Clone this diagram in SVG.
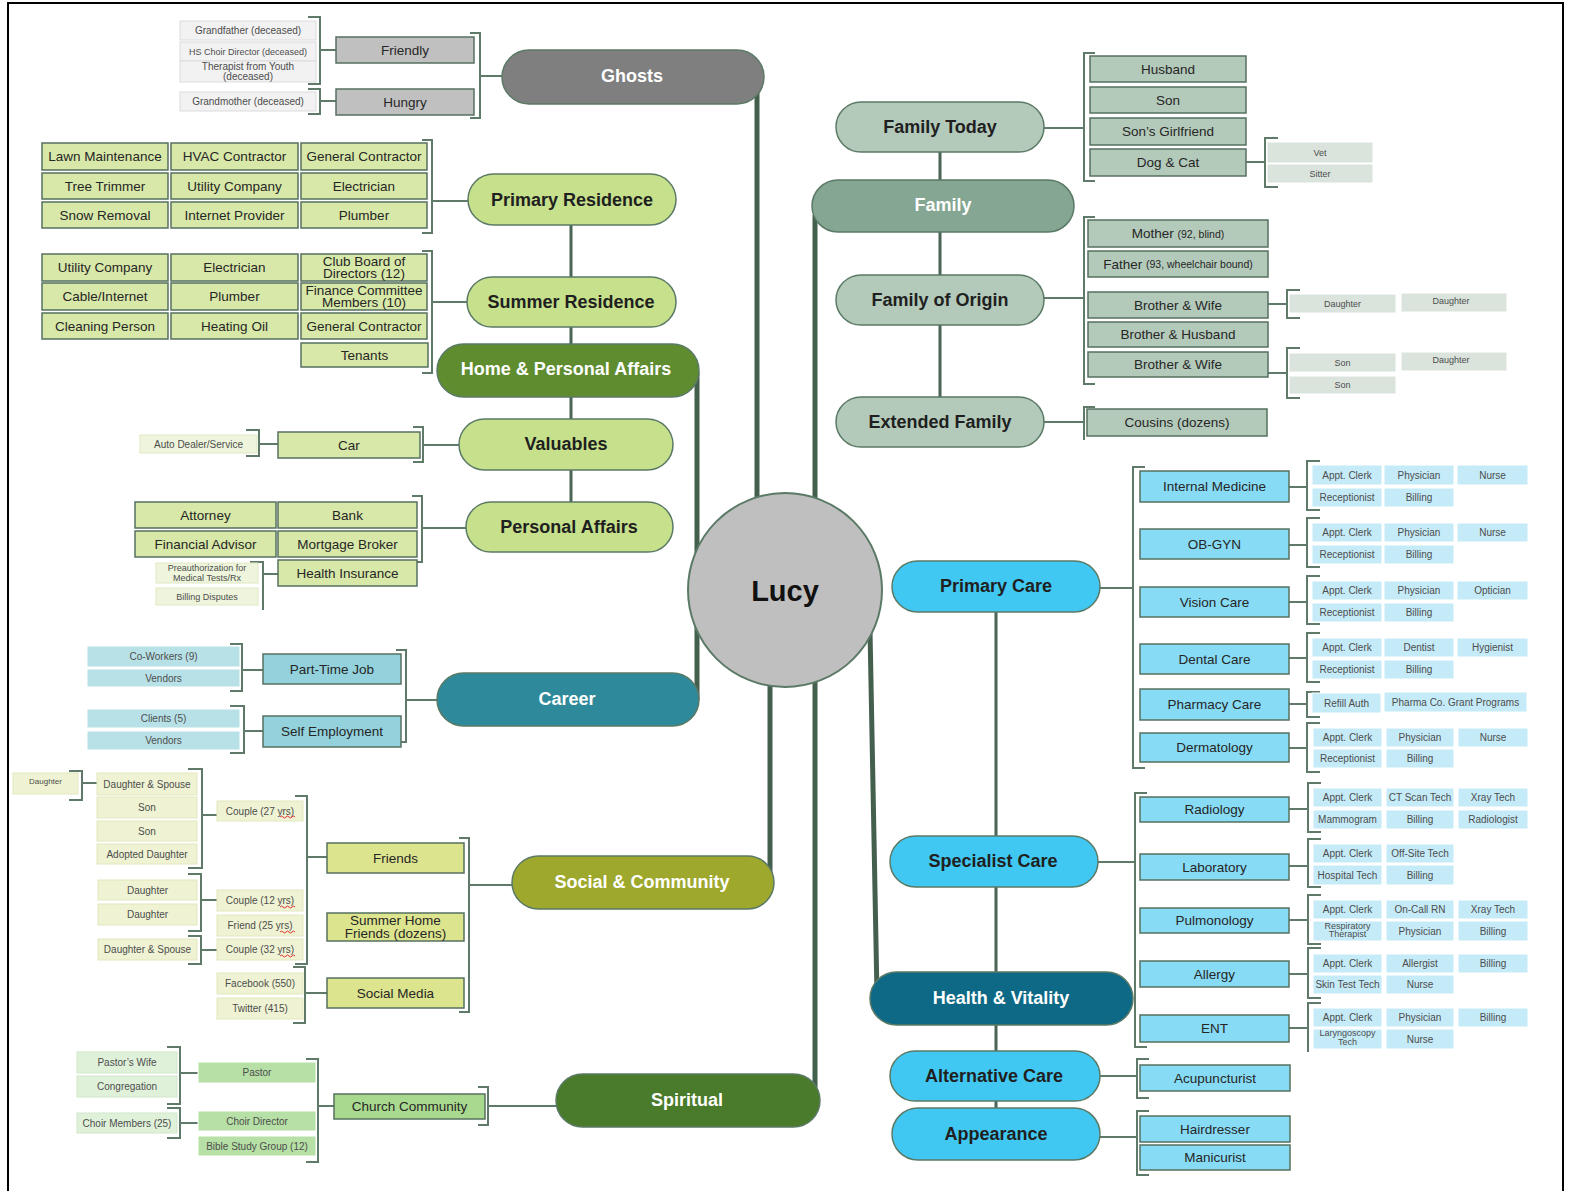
<svg xmlns="http://www.w3.org/2000/svg" width="1570" height="1191" viewBox="0 0 1570 1191">
<style>
text{font-family:"Liberation Sans",Arial,sans-serif;text-anchor:middle;dominant-baseline:central}
.nl{font-size:18px;font-weight:bold;fill:#1f1f1f}
.nw{font-size:18px;font-weight:bold;fill:#ffffff}
.lf{font-size:13.5px;fill:#262626}
.sl{font-size:10px;fill:#4d4d4d}
.xs{font-size:9px;fill:#4d4d4d}
.node{stroke:#5b7a66;stroke-width:1.5}
.leaf{stroke:#55705f;stroke-width:1.5}
.main{stroke:#455f4f;stroke-width:5;fill:none}
.mid{stroke:#4a6555;stroke-width:3;fill:none}
.br{stroke:#5f7a69;stroke-width:2;fill:none}
.sq{stroke:#e03030;stroke-width:1;fill:none}
.fg1{fill:#c0c0c0}.fg2{fill:#f2f2f2;stroke:#dcdcdc}
.fr1{fill:#d8e8a8}.fr2{fill:#eef5dc;stroke:#dfe9c4}
.fc1{fill:#93d2dd}.fc2{fill:#b8e1e7;stroke:#ffffff}
.fs1{fill:#dde48e}.fs2{fill:#eff3d3;stroke:#e2e8bd}
.fp1{fill:#a9d98f}.fp2{fill:#b6e0a5;stroke:#ffffff}.fp3{fill:#e0f1da;stroke:#d2e6cb}
.ff1{fill:#b3c9ba}.ff2{fill:#dae4dd;stroke:#ffffff}
.fh1{fill:#87dbf5}.fh2{fill:#c5ebf8;stroke:#ffffff}
</style>
<rect x="0" y="0" width="1570" height="1191" fill="#ffffff"/>
<path d="M8,1191 V3 H1563 V1191" fill="none" stroke="#000" stroke-width="2"/>

<g id="connectors">
<!-- main -->
<path class="main" d="M757,85 V500"/>
<path class="main" d="M815,215 V500"/>
<path class="main" d="M697,372 V700"/>
<path class="main" d="M770,880 V680"/>
<path class="main" d="M815,1098 V680"/>
<path class="main" d="M870,630 L877,995"/>
<path class="mid" d="M940,140 V410"/>
<path class="mid" d="M571,200 V527"/>
<path class="mid" d="M996,590 V1135"/>
<!-- ghosts -->
<path class="br" d="M470,33 H480 V118 H470 M480,76 H502"/>
<path class="br" d="M308,17 H320 V84 H308 M320,50 H336"/>
<path class="br" d="M308,89 H320 V114 H308 M320,101 H336"/>
<!-- residences -->
<path class="br" d="M422,140 H432 V233 H422 M432,201 H468"/>
<path class="br" d="M422,251 H432 V373 H422 M432,302 H467"/>
<!-- valuables -->
<path class="br" d="M413,427 H423 V462 H413 M423,445 H459"/>
<path class="br" d="M246,430 H259 V456 H246 M259,444 H278"/>
<!-- personal affairs -->
<path class="br" d="M412,496 H422 V562 H412 M422,528 H466"/>
<path class="br" d="M250,562 H263 V610 M263,574 H278"/>
<!-- career -->
<path class="br" d="M396,650 H406 V742 H396 M406,700 H437"/>
<path class="br" d="M230,644 H242 V691 H230 M242,670 H263"/>
<path class="br" d="M230,706 H244 V753 H230 M244,731 H263"/>
<!-- social -->
<path class="br" d="M459,838 H469 V1012 H459 M469,885 H512"/>
<path class="br" d="M295,796 H307 V964 H295 M307,857 H327"/>
<path class="br" d="M293,967 H305 V1023 H293 M305,993 H327"/>
<path class="br" d="M188,769 H202 V868 H188 M202,815 H217"/>
<path class="br" d="M69,771 H82 V800 H69 M82,783 H97"/>
<path class="br" d="M188,874 H201 V931 H188 M201,900 H217"/>
<path class="br" d="M188,936 H201 V964 H188 M201,950 H217"/>
<!-- spiritual -->
<path class="br" d="M478,1087 H488 V1125 H478 M488,1106 H556"/>
<path class="br" d="M306,1059 H318 V1162 H306 M318,1106 H334"/>
<path class="br" d="M167,1047 H180 V1104 H167 M180,1073 H198"/>
<path class="br" d="M167,1108 H180 V1138 H167 M180,1123 H198"/>
<!-- family -->
<path class="br" d="M1095,53 H1084 V181 H1095 M1044,128 H1084"/>
<path class="br" d="M1278,138 H1265 V187 H1278 M1246,162 H1265"/>
<path class="br" d="M1095,217 H1084 V384 H1095 M1044,298 H1084"/>
<path class="br" d="M1300,290 H1287 V318 H1300 M1268,304 H1287"/>
<path class="br" d="M1300,348 H1287 V398 H1300 M1268,373 H1287"/>
<path class="br" d="M1095,407 H1084 V440 M1044,422 H1084"/>
<!-- primary care -->
<path class="br" d="M1145,467 H1133 V768 H1145 M1100,588 H1133"/>
<path class="br" d="M1320,461 H1307 V510 H1320 M1289,487 H1307"/>
<path class="br" d="M1320,518 H1307 V567 H1320 M1289,545 H1307"/>
<path class="br" d="M1320,576 H1307 V624 H1320 M1289,602 H1307"/>
<path class="br" d="M1320,633 H1307 V682 H1320 M1289,658 H1307"/>
<path class="br" d="M1320,692 H1307 V717 H1320 M1289,704 H1307"/>
<path class="br" d="M1320,723 H1307 V772 H1320 M1289,748 H1307"/>
<!-- specialist -->
<path class="br" d="M1147,793 H1135 V1047 H1147 M1098,862 H1135"/>
<path class="br" d="M1321,783 H1308 V832 H1321 M1289,809 H1308"/>
<path class="br" d="M1321,839 H1308 V887 H1321 M1289,866 H1308"/>
<path class="br" d="M1321,895 H1308 V944 H1321 M1289,920 H1308"/>
<path class="br" d="M1321,948 H1308 V998 H1321 M1289,974 H1308"/>
<path class="br" d="M1321,1003 H1308 V1052 M1289,1028 H1308"/>
<!-- alt / appearance -->
<path class="br" d="M1149,1059 H1137 V1098 H1149 M1100,1076 H1137"/>
<path class="br" d="M1149,1111 H1137 V1175 H1149 M1100,1137 H1137"/>
</g>

<!-- main nodes -->
<g id="ghosts"><rect class="node" x="502" y="50" width="262" height="54" rx="27" fill="#7f7f7f"/><text class="nw" x="632" y="76">Ghosts</text></g>
<g id="family-today"><rect class="node" x="836" y="102" width="208" height="50" rx="25" fill="#b3c9ba"/><text class="nl" x="940" y="127">Family Today</text></g>
<g id="family"><rect class="node" x="812" y="180" width="262" height="52" rx="26" fill="#84a692"/><text class="nw" x="943" y="205">Family</text></g>
<g id="family-origin"><rect class="node" x="836" y="275" width="208" height="50" rx="25" fill="#b3c9ba"/><text class="nl" x="940" y="300">Family of Origin</text></g>
<g id="extended-family"><rect class="node" x="836" y="397" width="208" height="50" rx="25" fill="#b3c9ba"/><text class="nl" x="940" y="422">Extended Family</text></g>
<g id="primary-residence"><rect class="node" x="468" y="174" width="208" height="51" rx="25.5" fill="#c6e08c"/><text class="nl" x="572" y="200">Primary Residence</text></g>
<g id="summer-residence"><rect class="node" x="467" y="277" width="209" height="50" rx="25" fill="#c6e08c"/><text class="nl" x="571" y="302">Summer Residence</text></g>
<g id="home-personal"><rect class="node" x="437" y="344" width="262" height="53" rx="26.5" fill="#5e8c2f"/><text class="nw" x="566" y="369">Home &amp; Personal Affairs</text></g>
<g id="valuables"><rect class="node" x="459" y="419" width="214" height="51" rx="25.5" fill="#c6e08c"/><text class="nl" x="566" y="444">Valuables</text></g>
<g id="personal-affairs"><rect class="node" x="466" y="502" width="207" height="50" rx="25" fill="#c6e08c"/><text class="nl" x="569" y="527">Personal Affairs</text></g>
<g id="career"><rect class="node" x="437" y="673" width="262" height="53" rx="26.5" fill="#2e8a9a"/><text class="nw" x="567" y="699">Career</text></g>
<g id="social"><rect class="node" x="512" y="856" width="262" height="53" rx="26.5" fill="#9da82c"/><text class="nw" x="642" y="882">Social &amp; Community</text></g>
<g id="spiritual"><rect class="node" x="556" y="1074" width="264" height="53" rx="26.5" fill="#4a7b2b"/><text class="nw" x="687" y="1100">Spiritual</text></g>
<g id="primary-care"><rect class="node" x="892" y="561" width="208" height="51" rx="25.5" fill="#41c8f2"/><text class="nl" x="996" y="586">Primary Care</text></g>
<g id="specialist-care"><rect class="node" x="890" y="836" width="208" height="51" rx="25.5" fill="#41c8f2"/><text class="nl" x="993" y="861">Specialist Care</text></g>
<g id="health"><rect class="node" x="870" y="972" width="263" height="53" rx="26.5" fill="#0d6985"/><text class="nw" x="1001" y="998">Health &amp; Vitality</text></g>
<g id="alternative-care"><rect class="node" x="890" y="1051" width="210" height="50" rx="25" fill="#41c8f2"/><text class="nl" x="994" y="1076">Alternative Care</text></g>
<g id="appearance"><rect class="node" x="892" y="1108" width="208" height="52" rx="26" fill="#41c8f2"/><text class="nl" x="996" y="1134">Appearance</text></g>
<g id="lucy"><circle cx="785" cy="590" r="97" fill="#bfbfbf" stroke="#5b7a66" stroke-width="2"/><text x="785" y="591" style="font-size:29px;font-weight:bold;fill:#111">Lucy</text></g>

<!-- ghosts leaves -->
<g id="friendly"><rect class="leaf fg1" x="336" y="37" width="138" height="26"/><text class="lf" x="405" y="50">Friendly</text></g>
<g id="hungry"><rect class="leaf fg1" x="336" y="89" width="138" height="26"/><text class="lf" x="405" y="102">Hungry</text></g>
<g id="grandfather"><rect class="fg2" x="180" y="21" width="136" height="19"/><text class="sl" x="248" y="30.5">Grandfather (deceased)</text></g>
<g id="choir-dir-d"><rect class="fg2" x="180" y="42" width="136" height="19"/><text class="xs" x="248" y="51.5">HS Choir Director (deceased)</text></g>
<g id="therapist"><rect class="fg2" x="180" y="61" width="136" height="21"/><text class="sl" x="248" y="66">Therapist from Youth</text><text class="sl" x="248" y="76">(deceased)</text></g>
<g id="grandmother"><rect class="fg2" x="180" y="92" width="136" height="19"/><text class="sl" x="248" y="101.5">Grandmother (deceased)</text></g>

<!-- primary residence leaves -->
<g id="pr-lawn"><rect class="leaf fr1" x="42" y="143" width="126" height="27"/><text class="lf" x="105" y="156.5">Lawn Maintenance</text></g>
<g id="pr-hvac"><rect class="leaf fr1" x="171" y="143" width="127" height="27"/><text class="lf" x="234.5" y="156.5">HVAC Contractor</text></g>
<g id="pr-gc"><rect class="leaf fr1" x="301" y="143" width="126" height="27"/><text class="lf" x="364" y="156.5">General Contractor</text></g>
<g id="pr-tree"><rect class="leaf fr1" x="42" y="173" width="126" height="26"/><text class="lf" x="105" y="186">Tree Trimmer</text></g>
<g id="pr-util"><rect class="leaf fr1" x="171" y="173" width="127" height="26"/><text class="lf" x="234.5" y="186">Utility Company</text></g>
<g id="pr-elec"><rect class="leaf fr1" x="301" y="173" width="126" height="26"/><text class="lf" x="364" y="186">Electrician</text></g>
<g id="pr-snow"><rect class="leaf fr1" x="42" y="202" width="126" height="26"/><text class="lf" x="105" y="215">Snow Removal</text></g>
<g id="pr-inet"><rect class="leaf fr1" x="171" y="202" width="127" height="26"/><text class="lf" x="234.5" y="215">Internet Provider</text></g>
<g id="pr-plumb"><rect class="leaf fr1" x="301" y="202" width="126" height="26"/><text class="lf" x="364" y="215">Plumber</text></g>

<!-- summer residence leaves -->
<g id="sr-util"><rect class="leaf fr1" x="42" y="254" width="126" height="27"/><text class="lf" x="105" y="267.5">Utility Company</text></g>
<g id="sr-elec"><rect class="leaf fr1" x="171" y="254" width="127" height="27"/><text class="lf" x="234.5" y="267.5">Electrician</text></g>
<g id="sr-club"><rect class="leaf fr1" x="301" y="254" width="126" height="27"/><text class="lf" x="364" y="261.5">Club Board of</text><text class="lf" x="364" y="273.5">Directors (12)</text></g>
<g id="sr-cable"><rect class="leaf fr1" x="42" y="283" width="126" height="27"/><text class="lf" x="105" y="296.5">Cable/Internet</text></g>
<g id="sr-plumb"><rect class="leaf fr1" x="171" y="283" width="127" height="27"/><text class="lf" x="234.5" y="296.5">Plumber</text></g>
<g id="sr-fin"><rect class="leaf fr1" x="301" y="283" width="126" height="27"/><text class="lf" x="364" y="290.5">Finance Committee</text><text class="lf" x="364" y="302.5">Members (10)</text></g>
<g id="sr-clean"><rect class="leaf fr1" x="42" y="313" width="126" height="26"/><text class="lf" x="105" y="326">Cleaning Person</text></g>
<g id="sr-oil"><rect class="leaf fr1" x="171" y="313" width="127" height="26"/><text class="lf" x="234.5" y="326">Heating Oil</text></g>
<g id="sr-gc"><rect class="leaf fr1" x="301" y="313" width="126" height="26"/><text class="lf" x="364" y="326">General Contractor</text></g>
<g id="sr-ten"><rect class="leaf fr1" x="301" y="343" width="127" height="24"/><text class="lf" x="364.5" y="355">Tenants</text></g>

<!-- valuables / personal affairs leaves -->
<g id="car"><rect class="leaf fr1" x="278" y="432" width="142" height="26"/><text class="lf" x="349" y="445">Car</text></g>
<g id="auto"><rect class="fr2" x="140" y="435" width="117" height="18"/><text class="sl" x="198.5" y="444">Auto Dealer/Service</text></g>
<g id="attorney"><rect class="leaf fr1" x="135" y="502" width="141" height="26"/><text class="lf" x="205.5" y="515">Attorney</text></g>
<g id="bank"><rect class="leaf fr1" x="278" y="502" width="139" height="26"/><text class="lf" x="347.5" y="515">Bank</text></g>
<g id="fin-adv"><rect class="leaf fr1" x="135" y="531" width="141" height="26"/><text class="lf" x="205.5" y="544">Financial Advisor</text></g>
<g id="mortgage"><rect class="leaf fr1" x="278" y="531" width="139" height="26"/><text class="lf" x="347.5" y="544">Mortgage Broker</text></g>
<g id="health-ins"><rect class="leaf fr1" x="278" y="560" width="139" height="26"/><text class="lf" x="347.5" y="573">Health Insurance</text></g>
<g id="preauth"><rect class="fr2" x="156" y="563" width="102" height="20"/><text class="xs" x="207" y="568">Preauthorization for</text><text class="xs" x="207" y="578">Medical Tests/Rx</text></g>
<g id="billing-disp"><rect class="fr2" x="156" y="588" width="102" height="17"/><text class="xs" x="207" y="596.5">Billing Disputes</text></g>

<!-- career leaves -->
<g id="part-time"><rect class="leaf fc1" x="263" y="654" width="138" height="30"/><text class="lf" x="332" y="669">Part-Time Job</text></g>
<g id="self-emp"><rect class="leaf fc1" x="263" y="716" width="138" height="31"/><text class="lf" x="332" y="731.5">Self Employment</text></g>
<g id="coworkers"><rect class="fc2" x="87" y="646" width="153" height="21"/><text class="sl" x="163.5" y="656.5">Co-Workers (9)</text></g>
<g id="vendors1"><rect class="fc2" x="87" y="669" width="153" height="18"/><text class="sl" x="163.5" y="678">Vendors</text></g>
<g id="clients"><rect class="fc2" x="87" y="709" width="153" height="19"/><text class="sl" x="163.5" y="718.5">Clients (5)</text></g>
<g id="vendors2"><rect class="fc2" x="87" y="731" width="153" height="19"/><text class="sl" x="163.5" y="740.5">Vendors</text></g>

<!-- social leaves -->
<g id="friends"><rect class="leaf fs1" x="327" y="843" width="137" height="30"/><text class="lf" x="395.5" y="858">Friends</text></g>
<g id="summer-friends"><rect class="leaf fs1" x="327" y="913" width="137" height="28"/><text class="lf" x="395.5" y="920.5">Summer Home</text><text class="lf" x="395.5" y="933">Friends (dozens)</text></g>
<g id="social-media"><rect class="leaf fs1" x="327" y="978" width="137" height="30"/><text class="lf" x="395.5" y="993">Social Media</text></g>
<g id="couple27"><rect class="fs2" x="217" y="801" width="86" height="20"/><text class="sl" x="260" y="811">Couple (27 yrs)</text><path class="sq" d="M280,817 q1.5,-2 3,0 t3,0 t3,0 t3,0 t3,0"/></g>
<g id="couple12"><rect class="fs2" x="217" y="890" width="86" height="21"/><text class="sl" x="260" y="900.5">Couple (12 yrs)</text><path class="sq" d="M280,907 q1.5,-2 3,0 t3,0 t3,0 t3,0 t3,0"/></g>
<g id="friend25"><rect class="fs2" x="217" y="915" width="86" height="21"/><text class="sl" x="260" y="925.5">Friend (25 yrs)</text><path class="sq" d="M280,932 q1.5,-2 3,0 t3,0 t3,0 t3,0 t3,0"/></g>
<g id="couple32"><rect class="fs2" x="217" y="939" width="86" height="21"/><text class="sl" x="260" y="949.5">Couple (32 yrs)</text><path class="sq" d="M280,956 q1.5,-2 3,0 t3,0 t3,0 t3,0 t3,0"/></g>
<g id="facebook"><rect class="fs2" x="217" y="973" width="86" height="21"/><text class="sl" x="260" y="983.5">Facebook (550)</text></g>
<g id="twitter"><rect class="fs2" x="217" y="998" width="86" height="21"/><text class="sl" x="260" y="1008.5">Twitter (415)</text></g>
<g id="dspouse1"><rect class="fs2" x="97" y="773" width="100" height="22"/><text class="sl" x="147" y="784">Daughter &amp; Spouse</text></g>
<g id="son1"><rect class="fs2" x="97" y="797" width="100" height="21"/><text class="sl" x="147" y="807.5">Son</text></g>
<g id="son2"><rect class="fs2" x="97" y="821" width="100" height="20"/><text class="sl" x="147" y="831">Son</text></g>
<g id="adopted"><rect class="fs2" x="97" y="844" width="100" height="20"/><text class="sl" x="147" y="854">Adopted Daughter</text></g>
<g id="gdaughter"><rect class="fs2" x="13" y="773" width="65" height="21"/><text class="xs" x="45.5" y="781" style="font-size:8px">Daughter</text></g>
<g id="daughter-a"><rect class="fs2" x="98" y="880" width="99" height="20"/><text class="sl" x="147.5" y="890">Daughter</text></g>
<g id="daughter-b"><rect class="fs2" x="98" y="904" width="99" height="21"/><text class="sl" x="147.5" y="914">Daughter</text></g>
<g id="dspouse2"><rect class="fs2" x="98" y="939" width="99" height="21"/><text class="sl" x="147.5" y="949.5">Daughter &amp; Spouse</text></g>

<!-- spiritual leaves -->
<g id="church"><rect class="leaf fp1" x="334" y="1094" width="151" height="25"/><text class="lf" x="409.5" y="1106.5">Church Community</text></g>
<g id="pastor"><rect class="fp2" x="198" y="1062" width="118" height="21"/><text class="sl" x="257" y="1072.5">Pastor</text></g>
<g id="choir-director"><rect class="fp2" x="198" y="1111" width="118" height="20"/><text class="sl" x="257" y="1121">Choir Director</text></g>
<g id="bible"><rect class="fp2" x="198" y="1136" width="118" height="20"/><text class="sl" x="257" y="1146">Bible Study Group (12)</text></g>
<g id="pastor-wife"><rect class="fp3" x="77" y="1052" width="100" height="21"/><text class="sl" x="127" y="1062.5">Pastor’s Wife</text></g>
<g id="congregation"><rect class="fp3" x="77" y="1076" width="100" height="21"/><text class="sl" x="127" y="1086.5">Congregation</text></g>
<g id="choir-members"><rect class="fp3" x="77" y="1113" width="100" height="20"/><text class="sl" x="127" y="1123">Choir Members (25)</text></g>

<!-- family leaves -->
<g id="husband"><rect class="leaf ff1" x="1090" y="56" width="156" height="26"/><text class="lf" x="1168" y="69">Husband</text></g>
<g id="son"><rect class="leaf ff1" x="1090" y="87" width="156" height="26"/><text class="lf" x="1168" y="100">Son</text></g>
<g id="sons-gf"><rect class="leaf ff1" x="1090" y="118" width="156" height="27"/><text class="lf" x="1168" y="131.5">Son’s Girlfriend</text></g>
<g id="dogcat"><rect class="leaf ff1" x="1090" y="149" width="156" height="27"/><text class="lf" x="1168" y="162.5">Dog &amp; Cat</text></g>
<g id="vet"><rect class="ff2" x="1267" y="142" width="106" height="21"/><text class="xs" x="1320" y="152.5">Vet</text></g>
<g id="sitter"><rect class="ff2" x="1267" y="164" width="106" height="19"/><text class="xs" x="1320" y="173.5">Sitter</text></g>
<g id="mother"><rect class="leaf ff1" x="1088" y="220" width="180" height="27"/><text class="lf" x="1178" y="233.5">Mother <tspan style="font-size:10.5px">(92, blind)</tspan></text></g>
<g id="father"><rect class="leaf ff1" x="1088" y="251" width="180" height="26"/><text class="lf" x="1178" y="264">Father <tspan style="font-size:10.5px">(93, wheelchair bound)</tspan></text></g>
<g id="bro-wife1"><rect class="leaf ff1" x="1088" y="292" width="180" height="26"/><text class="lf" x="1178" y="305">Brother &amp; Wife</text></g>
<g id="bro-husband"><rect class="leaf ff1" x="1088" y="322" width="180" height="25"/><text class="lf" x="1178" y="334.5">Brother &amp; Husband</text></g>
<g id="bro-wife2"><rect class="leaf ff1" x="1088" y="352" width="180" height="25"/><text class="lf" x="1178" y="364.5">Brother &amp; Wife</text></g>
<g id="niece1"><rect class="ff2" x="1289" y="294" width="107" height="19"/><text class="xs" x="1342.5" y="303.5">Daughter</text></g>
<g id="niece2"><rect class="ff2" x="1401" y="293" width="106" height="19"/><text class="xs" x="1451" y="301">Daughter</text></g>
<g id="nephew1"><rect class="ff2" x="1289" y="353" width="107" height="19"/><text class="xs" x="1342.5" y="362.5">Son</text></g>
<g id="niece3"><rect class="ff2" x="1401" y="352" width="106" height="19"/><text class="xs" x="1451" y="360">Daughter</text></g>
<g id="nephew2"><rect class="ff2" x="1289" y="376" width="107" height="18"/><text class="xs" x="1342.5" y="385">Son</text></g>
<g id="cousins"><rect class="leaf ff1" x="1087" y="409" width="180" height="27"/><text class="lf" x="1177" y="422.5">Cousins (dozens)</text></g>

<!-- primary care leaves -->
<g id="internal"><rect class="leaf fh1" x="1140" y="471" width="149" height="31"/><text class="lf" x="1214.5" y="486.5">Internal Medicine</text></g>
<g id="obgyn"><rect class="leaf fh1" x="1140" y="529" width="149" height="30"/><text class="lf" x="1214.5" y="544">OB-GYN</text></g>
<g id="vision"><rect class="leaf fh1" x="1140" y="587" width="149" height="30"/><text class="lf" x="1214.5" y="602">Vision Care</text></g>
<g id="dental"><rect class="leaf fh1" x="1140" y="644" width="149" height="30"/><text class="lf" x="1214.5" y="659">Dental Care</text></g>
<g id="pharmacy"><rect class="leaf fh1" x="1140" y="689" width="149" height="31"/><text class="lf" x="1214.5" y="704.5">Pharmacy Care</text></g>
<g id="derm"><rect class="leaf fh1" x="1140" y="733" width="149" height="29"/><text class="lf" x="1214.5" y="747.5">Dermatology</text></g>

<g id="im-staff">
<rect class="fh2" x="1312" y="465" width="70" height="20"/><text class="sl" x="1347" y="475">Appt. Clerk</text>
<rect class="fh2" x="1384" y="465" width="70" height="20"/><text class="sl" x="1419" y="475">Physician</text>
<rect class="fh2" x="1457" y="465" width="71" height="20"/><text class="sl" x="1492.5" y="475">Nurse</text>
<rect class="fh2" x="1312" y="488" width="70" height="19"/><text class="sl" x="1347" y="497.5">Receptionist</text>
<rect class="fh2" x="1384" y="488" width="70" height="19"/><text class="sl" x="1419" y="497.5">Billing</text>
</g>
<g id="ob-staff">
<rect class="fh2" x="1312" y="523" width="70" height="19"/><text class="sl" x="1347" y="532.5">Appt. Clerk</text>
<rect class="fh2" x="1384" y="523" width="70" height="19"/><text class="sl" x="1419" y="532.5">Physician</text>
<rect class="fh2" x="1457" y="523" width="71" height="19"/><text class="sl" x="1492.5" y="532.5">Nurse</text>
<rect class="fh2" x="1312" y="545" width="70" height="19"/><text class="sl" x="1347" y="554.5">Receptionist</text>
<rect class="fh2" x="1384" y="545" width="70" height="19"/><text class="sl" x="1419" y="554.5">Billing</text>
</g>
<g id="vision-staff">
<rect class="fh2" x="1312" y="581" width="70" height="19"/><text class="sl" x="1347" y="590.5">Appt. Clerk</text>
<rect class="fh2" x="1384" y="581" width="70" height="19"/><text class="sl" x="1419" y="590.5">Physician</text>
<rect class="fh2" x="1457" y="581" width="71" height="19"/><text class="sl" x="1492.5" y="590.5">Optician</text>
<rect class="fh2" x="1312" y="603" width="70" height="19"/><text class="sl" x="1347" y="612.5">Receptionist</text>
<rect class="fh2" x="1384" y="603" width="70" height="19"/><text class="sl" x="1419" y="612.5">Billing</text>
</g>
<g id="dental-staff">
<rect class="fh2" x="1312" y="638" width="70" height="19"/><text class="sl" x="1347" y="647.5">Appt. Clerk</text>
<rect class="fh2" x="1384" y="638" width="70" height="19"/><text class="sl" x="1419" y="647.5">Dentist</text>
<rect class="fh2" x="1457" y="638" width="71" height="19"/><text class="sl" x="1492.5" y="647.5">Hygienist</text>
<rect class="fh2" x="1312" y="660" width="70" height="19"/><text class="sl" x="1347" y="669.5">Receptionist</text>
<rect class="fh2" x="1384" y="660" width="70" height="19"/><text class="sl" x="1419" y="669.5">Billing</text>
</g>
<g id="pharmacy-staff">
<rect class="fh2" x="1312" y="693" width="69" height="20"/><text class="sl" x="1346.5" y="703">Refill Auth</text>
<rect class="fh2" x="1384" y="692" width="143" height="20"/><text class="sl" x="1455.5" y="702">Pharma Co. Grant Programs</text>
</g>
<g id="derm-staff">
<rect class="fh2" x="1313" y="728" width="69" height="19"/><text class="sl" x="1347.5" y="737.5">Appt. Clerk</text>
<rect class="fh2" x="1386" y="728" width="68" height="19"/><text class="sl" x="1420" y="737.5">Physician</text>
<rect class="fh2" x="1458" y="728" width="70" height="19"/><text class="sl" x="1493" y="737.5">Nurse</text>
<rect class="fh2" x="1313" y="749" width="69" height="19"/><text class="sl" x="1347.5" y="758.5">Receptionist</text>
<rect class="fh2" x="1386" y="749" width="68" height="19"/><text class="sl" x="1420" y="758.5">Billing</text>
</g>

<!-- specialist leaves -->
<g id="radiology"><rect class="leaf fh1" x="1140" y="797" width="149" height="25"/><text class="lf" x="1214.5" y="809.5">Radiology</text></g>
<g id="laboratory"><rect class="leaf fh1" x="1140" y="854" width="149" height="26"/><text class="lf" x="1214.5" y="867">Laboratory</text></g>
<g id="pulmonology"><rect class="leaf fh1" x="1140" y="908" width="149" height="25"/><text class="lf" x="1214.5" y="920.5">Pulmonology</text></g>
<g id="allergy"><rect class="leaf fh1" x="1140" y="961" width="149" height="26"/><text class="lf" x="1214.5" y="974">Allergy</text></g>
<g id="ent"><rect class="leaf fh1" x="1140" y="1015" width="149" height="27"/><text class="lf" x="1214.5" y="1028.5">ENT</text></g>

<g id="rad-staff">
<rect class="fh2" x="1313" y="788" width="69" height="19"/><text class="sl" x="1347.5" y="797.5">Appt. Clerk</text>
<rect class="fh2" x="1386" y="788" width="68" height="19"/><text class="sl" x="1420" y="797.5">CT Scan Tech</text>
<rect class="fh2" x="1458" y="788" width="70" height="19"/><text class="sl" x="1493" y="797.5">Xray Tech</text>
<rect class="fh2" x="1313" y="810" width="69" height="19"/><text class="sl" x="1347.5" y="819.5">Mammogram</text>
<rect class="fh2" x="1386" y="810" width="68" height="19"/><text class="sl" x="1420" y="819.5">Billing</text>
<rect class="fh2" x="1458" y="810" width="70" height="19"/><text class="sl" x="1493" y="819.5">Radiologist</text>
</g>
<g id="lab-staff">
<rect class="fh2" x="1313" y="844" width="69" height="19"/><text class="sl" x="1347.5" y="853.5">Appt. Clerk</text>
<rect class="fh2" x="1386" y="844" width="68" height="19"/><text class="sl" x="1420" y="853.5">Off-Site Tech</text>
<rect class="fh2" x="1313" y="865" width="69" height="20"/><text class="sl" x="1347.5" y="875">Hospital Tech</text>
<rect class="fh2" x="1386" y="865" width="68" height="20"/><text class="sl" x="1420" y="875">Billing</text>
</g>
<g id="pulm-staff">
<rect class="fh2" x="1313" y="900" width="69" height="19"/><text class="sl" x="1347.5" y="909.5">Appt. Clerk</text>
<rect class="fh2" x="1386" y="900" width="68" height="19"/><text class="sl" x="1420" y="909.5">On-Call RN</text>
<rect class="fh2" x="1458" y="900" width="70" height="19"/><text class="sl" x="1493" y="909.5">Xray Tech</text>
<rect class="fh2" x="1313" y="921" width="69" height="20"/><text class="xs" x="1347.5" y="925.5">Respiratory</text><text class="xs" x="1347.5" y="934">Therapist</text>
<rect class="fh2" x="1386" y="921" width="68" height="20"/><text class="sl" x="1420" y="931">Physician</text>
<rect class="fh2" x="1458" y="921" width="70" height="20"/><text class="sl" x="1493" y="931">Billing</text>
</g>
<g id="allergy-staff">
<rect class="fh2" x="1313" y="954" width="69" height="19"/><text class="sl" x="1347.5" y="963.5">Appt. Clerk</text>
<rect class="fh2" x="1386" y="954" width="68" height="19"/><text class="sl" x="1420" y="963.5">Allergist</text>
<rect class="fh2" x="1458" y="954" width="70" height="19"/><text class="sl" x="1493" y="963.5">Billing</text>
<rect class="fh2" x="1313" y="975" width="69" height="19"/><text class="sl" x="1347.5" y="984">Skin Test Tech</text>
<rect class="fh2" x="1386" y="975" width="68" height="19"/><text class="sl" x="1420" y="984.5">Nurse</text>
</g>
<g id="ent-staff">
<rect class="fh2" x="1313" y="1008" width="69" height="19"/><text class="sl" x="1347.5" y="1017.5">Appt. Clerk</text>
<rect class="fh2" x="1386" y="1008" width="68" height="19"/><text class="sl" x="1420" y="1017.5">Physician</text>
<rect class="fh2" x="1458" y="1008" width="70" height="19"/><text class="sl" x="1493" y="1017.5">Billing</text>
<rect class="fh2" x="1313" y="1029" width="69" height="20"/><text class="xs" x="1347.5" y="1033">Laryngoscopy</text><text class="xs" x="1347.5" y="1042">Tech</text>
<rect class="fh2" x="1386" y="1029" width="68" height="20"/><text class="sl" x="1420" y="1039">Nurse</text>
</g>

<!-- alt / appearance leaves -->
<g id="acupuncturist"><rect class="leaf fh1" x="1140" y="1065" width="150" height="26"/><text class="lf" x="1215" y="1078">Acupuncturist</text></g>
<g id="hairdresser"><rect class="leaf fh1" x="1140" y="1116" width="150" height="26"/><text class="lf" x="1215" y="1129">Hairdresser</text></g>
<g id="manicurist"><rect class="leaf fh1" x="1140" y="1145" width="150" height="25"/><text class="lf" x="1215" y="1157.5">Manicurist</text></g>
</svg>
